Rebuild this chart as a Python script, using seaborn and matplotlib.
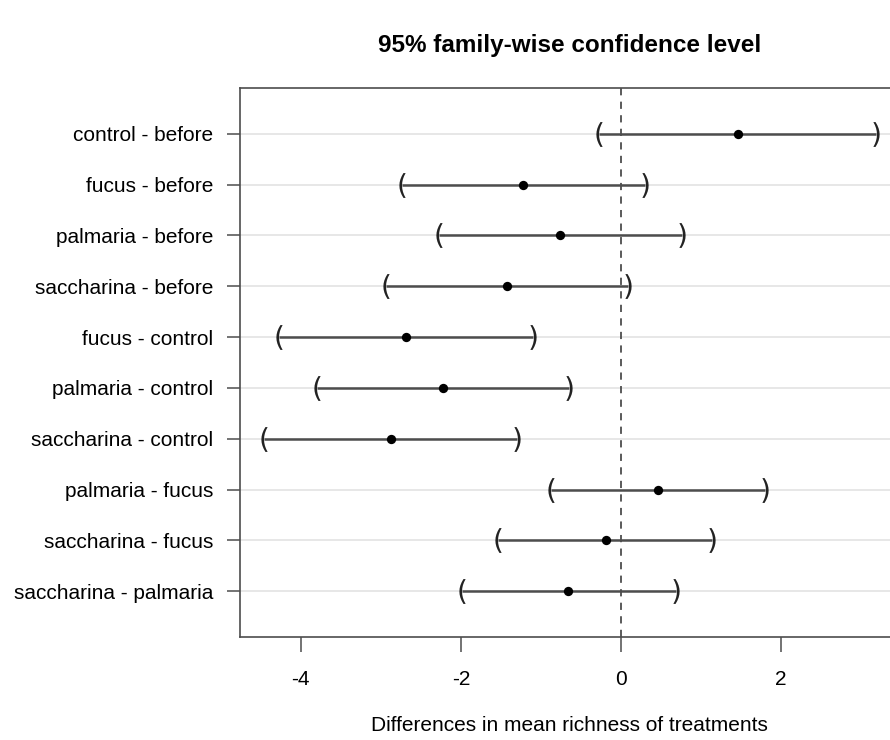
import numpy as np
import pandas as pd
import matplotlib
matplotlib.use("Agg")
import matplotlib.pyplot as plt
import seaborn as sns

# Tukey HSD comparisons
comparisons = [
    "control - before",
    "fucus - before",
    "palmaria - before",
    "saccharina - before",
    "fucus - control",
    "palmaria - control",
    "saccharina - control",
    "palmaria - fucus",
    "saccharina - fucus",
    "saccharina - palmaria",
]
diff = [1.465, -1.22, -0.76, -1.42, -2.68, -2.22, -2.875, 0.458, -0.19, -0.66]
lwr = [-0.27, -2.74, -2.27, -2.93, -4.27, -3.80, -4.46, -0.878, -1.53, -1.99]
upr = [3.18, 0.30, 0.76, 0.09, -1.10, -0.645, -1.30, 1.80, 1.14, 0.68]
xticks = [-4, -2, 0, 2]

sns.set_style("white")
plt.rcParams["font.family"] = ["Liberation Sans", "DejaVu Sans"]
plt.rcParams["text.color"] = "black"
plt.rcParams["axes.labelcolor"] = "black"
plt.rcParams["xtick.color"] = "black"
plt.rcParams["ytick.color"] = "black"

df = pd.DataFrame({"comparison": comparisons, "diff": diff, "lwr": lwr, "upr": upr})
df["pos"] = np.arange(len(df))

fig = plt.figure(figsize=(8.9, 7.4), dpi=100)
ax = fig.add_axes([240 / 890, 103 / 740, 659 / 890, 549 / 740])

dark = "#4d4d4d"

# light horizontal guide lines
for p in df["pos"]:
    ax.axhline(p, color="#e3e3e3", lw=1.2, zorder=0)

# zero reference
ax.axvline(0, color=dark, lw=1.3, ls=(0, (4, 3.5)), zorder=1)

# confidence intervals
ax.hlines(df["pos"], df["lwr"], df["upr"], color=dark, lw=1.8, zorder=2)
ax.scatter(df["lwr"], df["pos"], marker="$($", s=320, color="#222222", lw=0, zorder=3)
ax.scatter(df["upr"], df["pos"], marker="$)$", s=320, color="#222222", lw=0, zorder=3)

# estimates
sns.scatterplot(data=df, x="diff", y="pos", color="black", s=45, edgecolor="black",
                linewidth=0, ax=ax, zorder=4, legend=False)

ax.set_xlim(-4.757, 3.47)
ax.set_ylim(len(df) - 1 + 0.9, -0.9)
ax.set_xticks(xticks)
ax.set_xticklabels([str(t) for t in xticks])
ax.set_yticks(df["pos"])
ax.set_yticklabels(df["comparison"])

ax.tick_params(axis="x", bottom=True, length=11, width=1.1, color=dark, pad=13, labelsize=15)
ax.tick_params(axis="y", left=True, length=9.5, width=1.1, color=dark, pad=10, labelsize=15)
for s in ax.spines.values():
    s.set_color(dark)
    s.set_linewidth(1.2)
ax.spines["right"].set_visible(False)

ax.set_xlabel("Differences in mean richness of treatments", fontsize=15, labelpad=19)
ax.set_ylabel("")
ax.set_title("95% family-wise confidence level", fontsize=17.5, fontweight="bold", pad=26)

fig.savefig("out.png", dpi=100)
